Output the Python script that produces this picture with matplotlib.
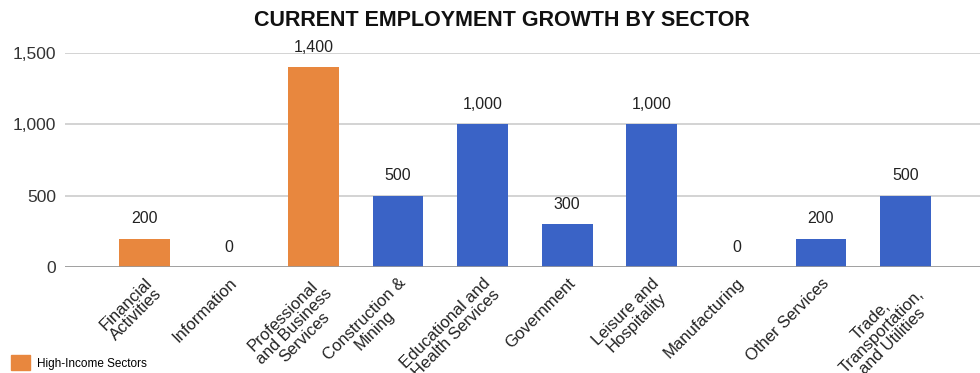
import matplotlib.pyplot as plt
from matplotlib.patches import Patch

sectors = ["Financial\nActivities", "Information", "Professional\nand Business\nServices",
           "Construction &\nMining", "Educational and\nHealth Services", "Government",
           "Leisure and\nHospitality", "Manufacturing", "Other Services",
           "Trade,\nTransportation,\nand Utilities"]
growth = [200, 0, 1400, 500, 1000, 300, 1000, 0, 200, 500]
high_income = [True, True, True, False, False, False, False, False, False, False]

orange = "#E8873E"
blue = "#3A63C6"
colors = [orange if h else blue for h in high_income]

plt.rcParams['font.family'] = ['Liberation Sans', 'DejaVu Sans']

fig = plt.figure(figsize=(9.8, 3.73), dpi=100)
ax = fig.add_axes([0.066, 0.284, 0.934, 0.574])

x = range(len(growth))
bars = ax.bar(x, growth, width=0.6, color=colors, zorder=3)

for xi, v in zip(x, growth):
    ax.annotate(f"{v:,}", (xi, v), xytext=(0, 9), textcoords="offset points",
                ha="center", va="bottom", fontsize=11.5, color="#222222")

ax.set_xlim(-0.94, 9.88)
ax.set_ylim(0, 1500)
ax.set_yticks([0, 500, 1000, 1500])
ax.set_yticklabels([f"{t:,}" for t in [0, 500, 1000, 1500]], fontsize=12.5, color="#333333")
ax.yaxis.grid(True, color="#cccccc", linewidth=1.2, zorder=0)
ax.axhline(0, color="#999999", linewidth=1.2, zorder=4)
ax.tick_params(axis="y", length=0, pad=6)
ax.tick_params(axis="x", length=0, pad=6)
for s in ax.spines.values():
    s.set_visible(False)

ax.set_xticks(list(x))
ax.set_xticklabels(sectors, rotation=45, ha="right", va="top", rotation_mode="anchor",
                   multialignment="center", fontsize=12, color="#222222")
for lbl in ax.get_xticklabels():
    lbl.set_linespacing(1.0)

fig.text(0.512, 0.945, "CURRENT EMPLOYMENT GROWTH BY SECTOR", ha="center", va="center",
         fontsize=15.5, fontweight="bold", color="#111111")

fig.legend(handles=[Patch(color=orange, label="High-Income Sectors")], loc="lower left",
           bbox_to_anchor=(0.0, -0.02), frameon=False, fontsize=8.5, handlelength=1.6,
           handleheight=1.5, handletextpad=0.6)

fig.savefig("out.png", dpi=100)
